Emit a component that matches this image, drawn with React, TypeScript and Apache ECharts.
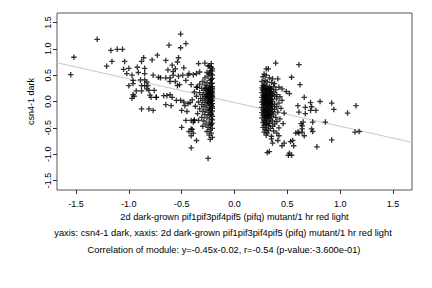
import React, { useEffect, useRef } from "react";
import * as echarts from "echarts";

const xTicks = [-1.5, -1.0, -0.5, 0.0, 0.5, 1.0, 1.5];
const yTicks = [-1.5, -1.0, -0.5, 0.0, 0.5, 1.0, 1.5];
const axisMin = -1.68;
const axisMax = 1.68;
const slope = -0.45;
const intercept = -0.02;

const xTitle = "2d dark-grown pif1pif3pif4pif5 (pifq) mutant/1 hr red light";
const yTitle = "csn4-1 dark";
const caption1 = "yaxis: csn4-1 dark, xaxis: 2d dark-grown pif1pif3pif4pif5 (pifq) mutant/1 hr red light";
const caption2 = "Correlation of module: y=-0.45x-0.02, r=-0.54 (p-value:-3.600e-01)";

const leftSparse: [number, number][] = [
  [-1.30, 1.18], [-1.52, 0.84], [-1.55, 0.51], [-1.17, 0.97], [-1.11, 0.99], [-1.06, 0.99],
  [-1.16, 0.76], [-1.21, 0.67], [-1.04, 0.76], [-0.88, 0.76], [-0.86, 0.83], [-0.78, 0.79],
  [-0.73, 0.88], [-1.05, 0.61], [-1.00, 0.63], [-0.92, 0.65], [-0.85, 0.63], [-1.02, 0.53],
  [-0.97, 0.50], [-0.96, 0.40], [-0.91, 0.55], [-0.85, 0.53], [-0.77, 0.50], [-0.89, 0.41],
  [-0.85, 0.41], [-0.83, 0.37], [-1.00, 0.30], [-0.96, 0.34], [-0.88, 0.30], [-0.85, 0.30],
  [-0.82, 0.30], [-0.81, 0.21], [-0.83, 0.24], [-0.93, 0.20], [-0.88, 0.20], [-0.96, 0.13],
  [-0.95, 0.10], [-0.97, 0.06], [-0.80, 0.12], [-0.79, 0.08], [-0.74, 0.08], [-0.88, -0.14],
  [-0.81, -0.14], [-0.77, -0.17], [-0.72, 0.46],
  [-0.51, 1.28], [-0.46, 1.10], [-0.51, 1.02], [-0.62, 1.07], [-0.53, 0.83], [-0.54, 0.75],
  [-0.65, 0.78], [-0.59, 0.69], [-0.63, 0.60], [-0.56, 0.62], [-0.58, 0.57], [-0.48, 0.64],
  [-0.34, 0.72], [-0.28, 0.73], [-0.25, 0.67], [-0.70, 0.45], [-0.65, 0.45], [-0.61, 0.45],
  [-0.58, 0.50], [-0.53, 0.48], [-0.49, 0.50], [-0.44, 0.50], [-0.43, 0.53], [-0.39, 0.51],
  [-0.36, 0.53], [-0.33, 0.56], [-0.61, 0.38], [-0.56, 0.38], [-0.54, 0.30], [-0.52, 0.32],
  [-0.46, 0.40], [-0.41, 0.32], [-0.36, 0.27], [-0.76, 0.21], [-0.67, 0.11], [-0.74, 0.08],
  [-0.64, 0.11], [-0.61, 0.13], [-0.59, 0.08], [-0.65, -0.06], [-0.60, -0.08], [-0.55, 0.02],
  [-0.51, 0.02], [-0.48, -0.01], [-0.44, -0.04], [-0.47, -0.08], [-0.42, -0.02], [-0.50, -0.17],
  [-0.45, -0.19], [-0.50, -0.49], [-0.41, -0.52], [-0.43, -0.57], [-0.41, -0.65], [-0.36, -0.74],
  [-0.41, -0.88], [-0.25, -1.08], [-0.39, -0.39], [-0.41, -0.36], [-0.38, -0.36], [-0.46, -0.36],
  [-0.40, -0.53], [-0.39, -0.60]
];

const leftColumn: [number, number][] = [
  [-0.22, 0.72], [-0.24, 0.68], [-0.21, 0.62], [-0.23, 0.58], [-0.26, 0.55], [-0.22, 0.52],
  [-0.25, 0.48], [-0.28, 0.45], [-0.21, 0.44], [-0.23, 0.40], [-0.30, 0.38], [-0.26, 0.36],
  [-0.22, 0.34], [-0.33, 0.33], [-0.28, 0.31], [-0.24, 0.30], [-0.21, 0.28], [-0.35, 0.27],
  [-0.31, 0.25], [-0.27, 0.24], [-0.23, 0.23], [-0.21, 0.22], [-0.29, 0.21], [-0.25, 0.20],
  [-0.22, 0.19], [-0.38, 0.18], [-0.33, 0.17], [-0.27, 0.16], [-0.24, 0.15], [-0.21, 0.14],
  [-0.30, 0.13], [-0.26, 0.12], [-0.22, 0.11], [-0.36, 0.10], [-0.28, 0.09], [-0.24, 0.08],
  [-0.21, 0.07], [-0.32, 0.06], [-0.27, 0.05], [-0.23, 0.04], [-0.40, 0.03], [-0.30, 0.02],
  [-0.25, 0.01], [-0.22, 0.00], [-0.34, -0.01], [-0.28, -0.02], [-0.24, -0.03], [-0.21, -0.04],
  [-0.31, -0.06], [-0.26, -0.07], [-0.22, -0.08], [-0.37, -0.09], [-0.29, -0.10], [-0.24, -0.12],
  [-0.21, -0.13], [-0.33, -0.14], [-0.27, -0.16], [-0.23, -0.17], [-0.30, -0.19], [-0.25, -0.20],
  [-0.22, -0.22], [-0.35, -0.23], [-0.28, -0.25], [-0.24, -0.26], [-0.21, -0.28], [-0.31, -0.30],
  [-0.26, -0.31], [-0.22, -0.33], [-0.38, -0.35], [-0.34, -0.36], [-0.29, -0.37], [-0.24, -0.39],
  [-0.21, -0.41], [-0.27, -0.43], [-0.23, -0.45], [-0.30, -0.47], [-0.25, -0.49], [-0.21, -0.51],
  [-0.23, -0.54], [-0.26, -0.57], [-0.22, -0.60], [-0.24, -0.64], [-0.21, -0.68], [-0.23, -0.72],
  [-0.27, 0.26], [-0.25, 0.24], [-0.23, 0.27], [-0.21, 0.25], [-0.26, 0.21], [-0.24, 0.19],
  [-0.22, 0.16], [-0.21, 0.18], [-0.25, 0.14], [-0.23, 0.12], [-0.21, 0.10], [-0.26, 0.09],
  [-0.24, 0.06], [-0.22, 0.05], [-0.21, 0.02], [-0.23, 0.00], [-0.25, -0.02], [-0.22, -0.05],
  [-0.21, -0.10], [-0.23, -0.14], [-0.21, -0.18], [-0.22, -0.25], [-0.21, -0.35], [-0.22, -0.44],
  [-0.21, 0.35], [-0.22, 0.42], [-0.21, 0.50], [-0.24, 0.53], [-0.21, 0.58], [-0.22, 0.65]
];

const rightColumn: [number, number][] = [
  [0.30, 0.62], [0.32, 0.62], [0.39, 0.73], [0.28, 0.52], [0.30, 0.50], [0.27, 0.47],
  [0.33, 0.45], [0.36, 0.43], [0.41, 0.43], [0.29, 0.40], [0.26, 0.38], [0.31, 0.37],
  [0.35, 0.36], [0.38, 0.34], [0.28, 0.33], [0.27, 0.30], [0.30, 0.29], [0.33, 0.28],
  [0.37, 0.28], [0.42, 0.27], [0.26, 0.26], [0.29, 0.25], [0.32, 0.24], [0.35, 0.23],
  [0.39, 0.22], [0.45, 0.24], [0.27, 0.21], [0.30, 0.20], [0.34, 0.19], [0.37, 0.18],
  [0.26, 0.17], [0.29, 0.16], [0.32, 0.15], [0.36, 0.14], [0.40, 0.13], [0.27, 0.12],
  [0.30, 0.11], [0.33, 0.10], [0.38, 0.10], [0.43, 0.09], [0.26, 0.08], [0.28, 0.07],
  [0.31, 0.06], [0.35, 0.05], [0.40, 0.05], [0.27, 0.03], [0.30, 0.02], [0.33, 0.01],
  [0.36, 0.00], [0.45, 0.02], [0.26, -0.01], [0.29, -0.02], [0.32, -0.03], [0.34, -0.04],
  [0.38, -0.05], [0.42, -0.03], [0.27, -0.06], [0.30, -0.07], [0.33, -0.08], [0.36, -0.09],
  [0.40, -0.10], [0.26, -0.11], [0.28, -0.12], [0.31, -0.13], [0.35, -0.14], [0.38, -0.15],
  [0.44, -0.13], [0.27, -0.16], [0.29, -0.17], [0.32, -0.18], [0.36, -0.19], [0.41, -0.20],
  [0.26, -0.21], [0.30, -0.22], [0.33, -0.23], [0.37, -0.24], [0.47, -0.22], [0.27, -0.26],
  [0.29, -0.27], [0.32, -0.28], [0.35, -0.29], [0.39, -0.30], [0.26, -0.31], [0.30, -0.32],
  [0.34, -0.33], [0.43, -0.33], [0.28, -0.35], [0.31, -0.36], [0.36, -0.37], [0.40, -0.38],
  [0.27, -0.40], [0.30, -0.41], [0.33, -0.42], [0.38, -0.43], [0.46, -0.42], [0.28, -0.45],
  [0.32, -0.46], [0.36, -0.47], [0.27, -0.49], [0.30, -0.50], [0.34, -0.51], [0.42, -0.50],
  [0.29, -0.54], [0.32, -0.55], [0.37, -0.56], [0.28, -0.58], [0.31, -0.60], [0.40, -0.60],
  [0.30, -0.64], [0.35, -0.66], [0.42, -0.65], [0.35, -0.71], [0.36, -0.79], [0.41, -0.74],
  [0.31, -0.97], [0.33, -0.95],
  [0.28, 0.28], [0.31, 0.26], [0.34, 0.25], [0.27, 0.23], [0.30, 0.22], [0.33, 0.21],
  [0.28, 0.18], [0.31, 0.17], [0.34, 0.16], [0.29, 0.13], [0.32, 0.12], [0.35, 0.11],
  [0.28, 0.09], [0.31, 0.08], [0.34, 0.07], [0.29, 0.04], [0.32, 0.03], [0.35, 0.03],
  [0.28, 0.00], [0.31, -0.01], [0.34, -0.01], [0.28, -0.04], [0.31, -0.05], [0.35, -0.06],
  [0.29, -0.09], [0.32, -0.10], [0.34, -0.11], [0.30, -0.15], [0.33, -0.16], [0.28, -0.19],
  [0.31, -0.20], [0.34, -0.21], [0.28, -0.24], [0.31, -0.25], [0.34, -0.26], [0.29, -0.30],
  [0.32, -0.31], [0.28, -0.38], [0.33, -0.39], [0.30, -0.44]
];

const rightSparse: [number, number][] = [
  [0.61, 0.70], [0.54, 0.46], [0.62, 0.32], [0.49, 0.19], [0.52, 0.15], [0.66, 0.08],
  [0.60, -0.08], [0.67, -0.11], [0.61, -0.20], [0.72, -0.02], [0.81, 0.00], [0.92, -0.03],
  [1.15, -0.08], [0.73, -0.10], [0.77, -0.17], [0.72, -0.17], [0.67, -0.23], [0.94, -0.15],
  [1.07, -0.22], [0.74, -0.39], [0.86, -0.39], [0.63, -0.42], [0.64, -0.46], [0.60, -0.58],
  [0.64, -0.58], [0.66, -0.65], [0.73, -0.52], [0.74, -0.57], [1.14, -0.58], [1.18, -0.57],
  [0.92, -0.73], [0.78, -0.86], [0.53, -0.76], [0.55, -0.74], [0.58, -0.60], [0.61, -0.60],
  [0.56, -0.84], [0.45, -0.84], [0.47, -0.79], [0.52, -0.98], [0.54, -1.02], [0.51, -1.02],
  [0.65, -0.39], [0.64, -0.52]
];

const plusSymbol = "path://M3.8,0H6.2V3.8H10V6.2H6.2V10H3.8V6.2H0V3.8H3.8Z";
const font = "Liberation Sans, Arial, Helvetica, sans-serif";

export default function App() {
  const ref = useRef<HTMLDivElement>(null);
  useEffect(() => {
    if (!ref.current) return;
    const chart = echarts.init(ref.current, null, { renderer: "svg" });
    const points = [...leftSparse, ...leftColumn, ...rightColumn, ...rightSparse];
    const fmt = (v: number) => v.toFixed(1);
    chart.setOption({
      animation: false,
      backgroundColor: "#ffffff",
      textStyle: { fontFamily: font },
      grid: {
        left: 57, right: 20, top: 13, bottom: 98,
        show: true, borderColor: "#555", borderWidth: 1, backgroundColor: "transparent"
      },
      xAxis: {
        type: "value", min: axisMin, max: axisMax,
        name: xTitle, nameLocation: "middle", nameGap: 20,
        nameTextStyle: { fontSize: 9.2, color: "#000", fontFamily: font },
        splitLine: { show: false },
        axisLine: { show: false, onZero: false },
        axisTick: { show: true, length: 4, lineStyle: { color: "#333" }, customValues: xTicks },
        axisLabel: { fontSize: 9, color: "#000", margin: 9, customValues: xTicks, formatter: fmt, fontFamily: font }
      },
      yAxis: {
        type: "value", min: axisMin, max: axisMax,
        name: yTitle, nameLocation: "middle", nameGap: 18,
        nameTextStyle: { fontSize: 9, color: "#000", fontFamily: font },
        splitLine: { show: false },
        axisLine: { show: false, onZero: false },
        axisTick: { show: true, length: 4, lineStyle: { color: "#333" }, customValues: yTicks },
        axisLabel: { fontSize: 9, color: "#000", margin: 5, rotate: 90, customValues: yTicks, formatter: fmt, fontFamily: font }
      },
      graphic: [
        { type: "text", x: 223, y: 233, style: { text: caption1, fill: "#000", font: `9.3px ${font}`, textAlign: "center", textVerticalAlign: "middle" } },
        { type: "text", x: 224, y: 250, style: { text: caption2, fill: "#000", font: `9.3px ${font}`, textAlign: "center", textVerticalAlign: "middle" } }
      ],
      series: [
        {
          type: "line",
          data: [[axisMin, slope * axisMin + intercept], [axisMax, slope * axisMax + intercept]],
          symbol: "none",
          lineStyle: { color: "#c8c8c8", width: 1 },
          silent: true,
          z: 1
        },
        {
          type: "scatter",
          data: points,
          symbol: plusSymbol,
          symbolSize: 5.5,
          itemStyle: { color: "#000" },
          z: 2
        }
      ]
    });
    return () => chart.dispose();
  }, []);
  return <div ref={ref} style={{ width: 432, height: 288, position: "absolute", left: 0, top: 0 }} />;
}
